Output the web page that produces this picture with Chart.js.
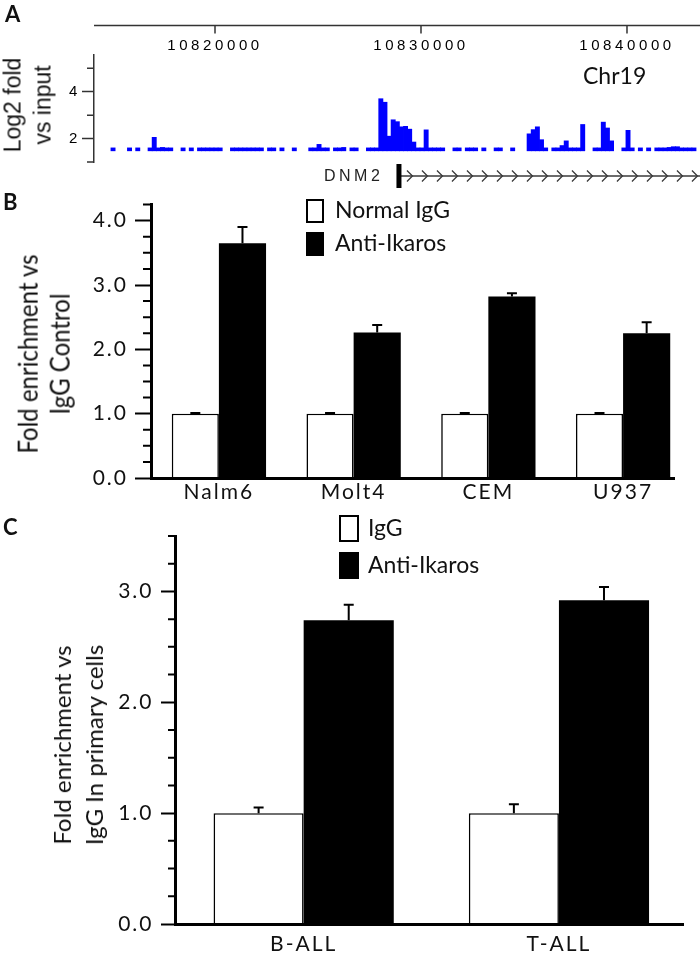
<!DOCTYPE html>
<html lang="en">
<head>
<meta charset="UTF-8">
<title>Ikaros binding at DNM2</title>
<style>
  body { margin: 0; background: #fff; }
  #page { position: relative; width: 700px; height: 955px; overflow: hidden; background: #fff; }
  canvas { position: absolute; left: 0; }
  .txt { position: absolute; white-space: nowrap; color: #111; }
  .panel { font: bold 22px Lato, sans-serif; line-height: 22px; }
  .ytitle { position: absolute; white-space: nowrap; text-align: center; color: #111; }
</style>
</head>
<body>
<div id="page">
  <canvas id="chartA" width="700" height="190" style="top:0;width:700px;height:190px"></canvas>
  <canvas id="chartB" width="700" height="320" style="top:185px;width:700px;height:320px"></canvas>
  <canvas id="chartC" width="700" height="455" style="top:500px;width:700px;height:455px"></canvas>

  <div class="txt panel" style="left:5px;top:3px">A</div>
  <div class="txt panel" style="left:3px;top:191px">B</div>
  <div class="txt panel" style="left:3px;top:516px">C</div>

  <div class="ytitle" style="left:28px;top:105px;font:23px 'Liberation Sans',sans-serif;line-height:29.5px;transform:translate(-50%,-50%) rotate(-90deg)">Log2 fold<br>vs input</div>
  <div class="txt" style="left:583px;top:64px;font:23px Lato,sans-serif;line-height:23px">Chr19</div>
  <div class="txt" style="left:324px;top:168px;font:16px 'Liberation Sans',sans-serif;line-height:16px;letter-spacing:3.5px;color:#222">DNM2</div>
  <div class="ytitle" style="left:43px;top:354px;font:24px Lato,sans-serif;line-height:28px;transform:translate(-50%,-50%) rotate(-90deg) scaleY(1.15)">Fold enrichment vs<br>IgG Control</div>
  <div class="ytitle" style="left:78px;top:745px;font:24px Lato,sans-serif;line-height:32px;transform:translate(-50%,-50%) rotate(-90deg)">Fold enrichment vs<br>IgG In primary cells</div>
</div>

<script src="https://cdn.jsdelivr.net/npm/chart.js"></script>
<script>
  // ---- panel A: ChIP-seq track on chr19 ----
  const chrRange = [10814126, 10843544];
  const topTicks = [10820000, 10830000, 10840000];
  const trackStart = 10814750;
  const binSize = 200;
  const trackFloor = 1.48;
  const trackValues = [
    null, 1.6, null, null, null, 1.6, null, 1.6, null, null,
    1.6, 2.05, 1.6, 1.62, 1.6, 1.6, null, null, 1.6, null,
    1.6, null, 1.6, 1.6, 1.6, 1.6, 1.6, 1.6, null, null,
    1.6, 1.6, 1.6, 1.6, 1.6, 1.6, 1.6, 1.6, null, 1.6,
    1.6, null, 1.6, null, null, 1.6, null, null, null, 1.6,
    1.6, 1.75, 1.6, 1.6, null, 1.6, 1.6, 1.62, null, 1.6,
    1.6, null, null, 1.6, 1.6, 1.6, 3.7, 3.55, 2.1, 2.8,
    2.72, 2.5, 2.52, 2.4, 1.85, 1.6, 1.6, 2.37, 1.6, 1.6,
    1.6, 1.6, null, null, 1.6, 1.6, null, 1.6, 1.6, 1.6,
    null, 1.6, null, null, 1.6, 1.6, null, null, 1.6, null,
    null, null, 2.2, 2.38, 2.5, 1.95, 1.6, null, 1.6, 1.6,
    1.7, 1.9, 1.6, 1.6, 1.6, 2.6, null, null, 1.6, 1.6,
    2.7, 2.45, 1.9, null, null, 1.6, 2.35, 1.6, null, 1.6,
    null, 1.6, null, 1.6, 1.6, 1.6, 1.62, 1.65, 1.65, 1.6,
    1.6, 1.6, 1.6
  ];
  const log2Ticks = [1, 2, 3, 4, 5];
  const log2Labels = [2, 4];
  const geneStart = 10828930;

  // ---- panel B: cell lines ----
  const cellLines = ['Nalm6', 'Molt4', 'CEM', 'U937'];
  const normalIgG = [1.0, 1.0, 1.0, 1.0];
  const normalIgGErr = [0.01, 0.01, 0.01, 0.01];
  const antiIkarosB = [3.65, 2.26, 2.82, 2.25];
  const antiIkarosBErr = [0.25, 0.12, 0.05, 0.17];
  const yLabelsB = [0, 1, 2, 3, 4];

  // ---- panel C: primary cells ----
  const primaryCells = ['B-ALL', 'T-ALL'];
  const igG = [1.0, 1.0];
  const igGErr = [0.05, 0.08];
  const antiIkarosC = [2.74, 2.92];
  const antiIkarosCErr = [0.14, 0.12];
  const yLabelsC = [0, 1, 2, 3];

  // wide-looking tick labels
  const letterSpace = {
    id: 'letterSpace',
    beforeDraw(chart, args, o) { chart.ctx.letterSpacing = (o.px || 0) + 'px'; },
    afterDraw(chart) { chart.ctx.letterSpacing = '0px'; }
  };

  // short ticks for the unlabeled values
  const tickMarks = {
    id: 'tickMarks',
    afterDraw(chart, args, o) {
      const s = chart.scales.y, ctx = chart.ctx;
      ctx.save();
      ctx.strokeStyle = o.color;
      ctx.lineWidth = o.width;
      ctx.beginPath();
      s.ticks.forEach(t => {
        if (o.majors.includes(t.value)) return;
        const y = s.getPixelForValue(t.value);
        ctx.moveTo(s.right - o.len, y);
        ctx.lineTo(s.right, y);
      });
      ctx.stroke();
      ctx.restore();
    }
  };

  // genome coordinate ruler above the track
  const topAxis = {
    id: 'topAxis',
    afterDraw(chart, args, o) {
      const s = chart.scales.x, ctx = chart.ctx;
      ctx.save();
      ctx.strokeStyle = '#333';
      ctx.lineWidth = 1.5;
      ctx.beginPath();
      ctx.moveTo(s.left, o.y);
      ctx.lineTo(s.right, o.y);
      s.ticks.forEach(t => {
        const x = s.getPixelForValue(t.value);
        ctx.moveTo(x, o.y);
        ctx.lineTo(x, o.y + o.len);
      });
      ctx.stroke();
      ctx.restore();
    }
  };

  // DNM2 gene model: start mark and strand chevrons
  const geneTrack = {
    id: 'geneTrack',
    afterDraw(chart, args, o) {
      const ctx = chart.ctx, xs = chart.scales.x;
      const x0 = xs.getPixelForValue(o.start), x1 = chart.width, y = o.y;
      ctx.save();
      ctx.strokeStyle = '#3a3a3a';
      ctx.lineWidth = 1.6;
      ctx.beginPath();
      ctx.moveTo(x0, y);
      ctx.lineTo(x1, y);
      ctx.stroke();
      ctx.lineWidth = 1.3;
      ctx.beginPath();
      for (let cx = x0 + 11; cx < x1 + 3; cx += o.step) {
        ctx.moveTo(cx - 3, y - 5.5);
        ctx.lineTo(cx + 2.5, y);
        ctx.lineTo(cx - 3, y + 5.5);
      }
      ctx.stroke();
      ctx.fillStyle = '#000';
      ctx.fillRect(x0 - 2.5, y - 12, 5, 24);
      ctx.restore();
    }
  };

  const errorBars = {
    id: 'errorBars',
    afterDatasetsDraw(chart, args, o) {
      const ctx = chart.ctx, ys = chart.scales.y;
      ctx.save();
      ctx.strokeStyle = '#000';
      ctx.lineWidth = o.width;
      chart.data.datasets.forEach((ds, d) => {
        chart.getDatasetMeta(d).data.forEach((bar, i) => {
          const top = ds.data[i].y, err = o.errors[d][i];
          const y0 = ys.getPixelForValue(top), y1 = ys.getPixelForValue(top + err);
          ctx.beginPath();
          ctx.moveTo(bar.x, y0);
          ctx.lineTo(bar.x, y1);
          ctx.moveTo(bar.x - o.cap / 2, y1);
          ctx.lineTo(bar.x + o.cap / 2, y1);
          ctx.stroke();
        });
      });
      ctx.restore();
    }
  };

  const boxLegend = {
    id: 'boxLegend',
    afterDraw(chart, args, o) {
      const ctx = chart.ctx;
      ctx.save();
      ctx.letterSpacing = '0px';
      ctx.font = o.font;
      ctx.textBaseline = 'middle';
      chart.data.datasets.forEach((ds, i) => {
        const bx = o.x, by = o.y + i * o.gap;
        ctx.fillStyle = ds.backgroundColor;
        ctx.fillRect(bx, by, o.w, o.h);
        ctx.lineWidth = 2;
        ctx.strokeStyle = '#000';
        ctx.strokeRect(bx + 1, by + 1, o.w - 2, o.h - 2);
        ctx.fillStyle = '#111';
        ctx.fillText(ds.label, bx + o.w + o.textGap, by + o.h / 2);
      });
      ctx.restore();
    }
  };

  // panel A
  const trackPoints = [];
  trackValues.forEach((v, i) => {
    if (v !== null) trackPoints.push({ x: trackStart + binSize * i + binSize / 2, y: [trackFloor, v] });
  });

  new Chart(document.getElementById('chartA'), {
    type: 'bar',
    data: {
      datasets: [{
        label: 'Log2 fold vs input',
        data: trackPoints,
        backgroundColor: '#0000ff',
        borderWidth: 0,
        barPercentage: 1,
        categoryPercentage: 1,
        inflateAmount: 0.4
      }]
    },
    options: {
      responsive: false,
      animation: false,
      layout: { padding: { left: 0, right: 0, top: 0, bottom: 28 } },
      plugins: {
        legend: { display: false },
        tooltip: { enabled: false },
        letterSpace: { px: 3.6 },
        tickMarks: { majors: log2Labels, len: 7, width: 1.5, color: '#333' },
        topAxis: { y: 25.5, len: 8 },
        geneTrack: { start: geneStart, y: 176, step: 15 }
      },
      scales: {
        x: {
          type: 'linear',
          position: 'top',
          min: chrRange[0],
          max: chrRange[1],
          offset: false,
          afterBuildTicks: s => { s.ticks = topTicks.map(v => ({ value: v })); },
          afterFit: s => { s.height = 55; },
          grid: { display: false, drawTicks: false, offset: false },
          border: { display: false },
          ticks: {
            autoSkip: false, maxRotation: 0, padding: 0, color: '#000',
            font: { family: 'Liberation Sans', size: 15 },
            callback: v => String(v)
          }
        },
        y: {
          min: 1,
          max: 5.57,
          afterBuildTicks: s => { s.ticks = log2Ticks.map(v => ({ value: v })); },
          afterFit: s => { s.width = 94; },
          grid: {
            drawOnChartArea: false, tickLength: 12, tickWidth: 1.5,
            tickColor: c => (c.tick && log2Labels.includes(c.tick.value)) ? '#333' : 'rgba(0,0,0,0)'
          },
          border: { color: '#333', width: 1.5 },
          ticks: {
            autoSkip: false, padding: 1, color: '#000',
            font: { family: 'Liberation Sans', size: 15 },
            callback: v => log2Labels.includes(v) ? String(v) : ''
          }
        }
      }
    },
    plugins: [letterSpace, tickMarks, topAxis, geneTrack]
  });

  // panels B and C share the same style
  function barPanel(id, cats, sets, o) {
    return new Chart(document.getElementById(id), {
      type: 'bar',
      data: {
        datasets: sets.map(s => ({
          label: s.label,
          data: s.values.map((v, i) => ({ x: i, y: v })),
          backgroundColor: s.fill,
          borderColor: '#000',
          borderWidth: s.fill === '#000000' ? 0 : 1.6,
          barPercentage: 1,
          categoryPercentage: o.catPct
        }))
      },
      options: {
        responsive: false,
        animation: false,
        layout: { padding: { left: 0, right: o.padRight, top: o.padTop, bottom: 0 } },
        plugins: {
          legend: { display: false },
          tooltip: { enabled: false },
          letterSpace: { px: 2 },
          tickMarks: { majors: o.yLabels, len: o.minorLen, width: 2, color: '#000' },
          errorBars: { errors: sets.map(s => s.errors), cap: 10, width: 2 },
          boxLegend: o.legend
        },
        scales: {
          x: {
            type: 'linear',
            min: o.xRange[0],
            max: o.xRange[1],
            offset: false,
            afterBuildTicks: s => { s.ticks = cats.map((c, i) => ({ value: i })); },
            afterFit: s => { s.height = o.xHeight; },
            grid: { display: false, drawTicks: false, offset: false },
            border: { color: '#000', width: 3, z: 1 },
            ticks: {
              autoSkip: false, maxRotation: 0, padding: o.xPad, color: '#111',
              font: { family: 'Lato', size: 21 },
              callback: v => cats[v]
            }
          },
          y: {
            min: 0,
            max: o.yMax,
            afterBuildTicks: s => {
              const t = [];
              for (let k = 0; k * o.minorStep <= o.yMax + 1e-9; k++) t.push({ value: Math.round(k * o.minorStep * 100) / 100 });
              s.ticks = t;
            },
            afterFit: s => { s.width = o.yWidth; },
            grid: {
              drawOnChartArea: false, tickLength: o.majorLen, tickWidth: 2,
              tickColor: c => (c.tick && o.yLabels.includes(c.tick.value)) ? '#000' : 'rgba(0,0,0,0)'
            },
            border: { color: '#000', width: 3, z: 1 },
            ticks: {
              autoSkip: false, padding: o.yPad, color: '#111',
              font: { family: 'Lato', size: 21 },
              callback: v => o.yLabels.includes(v) ? v.toFixed(1) : ''
            }
          }
        }
      },
      plugins: [letterSpace, tickMarks, errorBars, boxLegend]
    });
  }

  barPanel('chartB', cellLines, [
    { label: 'Normal IgG', values: normalIgG, errors: normalIgGErr, fill: '#ffffff' },
    { label: 'Anti-Ikaros', values: antiIkarosB, errors: antiIkarosBErr, fill: '#000000' }
  ], {
    xRange: [-0.504, 3.378], catPct: 0.70, yMax: 4.25, minorStep: 0.25, yLabels: yLabelsB,
    padTop: 13, padRight: 26, yWidth: 151, xHeight: 27, xPad: 1.6, yPad: 7,
    majorLen: 16, minorLen: 8,
    legend: { x: 306, y: 14, w: 18, h: 24, gap: 33, textGap: 11, font: '23px Lato' }
  });

  barPanel('chartC', primaryCells, [
    { label: 'IgG', values: igG, errors: igGErr, fill: '#ffffff' },
    { label: 'Anti-Ikaros', values: antiIkarosC, errors: antiIkarosCErr, fill: '#000000' }
  ], {
    xRange: [-0.504, 1.486], catPct: 0.706, yMax: 3.5, minorStep: 0.25, yLabels: yLabelsC,
    padTop: 36, padRight: 17, yWidth: 175, xHeight: 31, xPad: 7.5, yPad: 7.5,
    majorLen: 14, minorLen: 7,
    legend: { x: 339, y: 15, w: 20, h: 27, gap: 37, textGap: 9, font: '23px Lato' }
  });
</script>
</body>
</html>
